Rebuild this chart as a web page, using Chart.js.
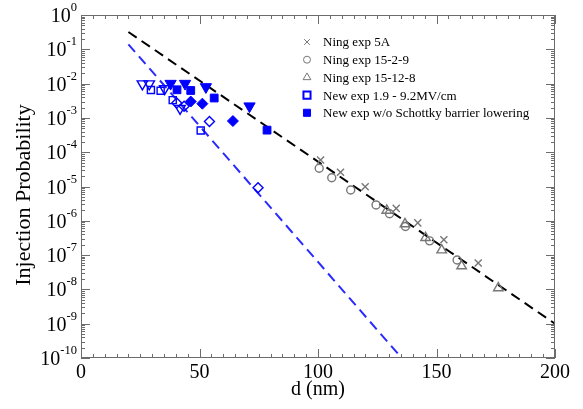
<!DOCTYPE html>
<html>
<head>
<meta charset="utf-8">
<script src="https://cdn.jsdelivr.net/npm/chart.js@4.4.0/dist/chart.umd.min.js"></script>
<style>
  html, body { margin: 0; padding: 0; background: #fff; }
</style>
</head>
<body>
<canvas id="injChart" width="583" height="409"></canvas>
<script>
// Ning et al. data (d in nm, injection probability)
const ning5aD = [101.1, 109.5, 119.9, 133.0, 142.1, 153.1, 167.6];
const ning5aP = [5.9e-5, 2.6e-5, 9.8e-6, 2.3e-6, 8.7e-7, 2.8e-7, 5.9e-8];

const ning1529D = [100.5, 105.8, 113.8, 124.5, 130.2, 136.9, 147.1, 158.7];
const ning1529P = [3.4e-5, 1.8e-5, 7.9e-6, 2.9e-6, 1.6e-6, 6.8e-7, 2.6e-7, 7.2e-8];

const ning15128D = [129.0, 136.7, 145.4, 152.2, 160.6, 176.1];
const ning15128P = [2.0e-6, 8.1e-7, 3.2e-7, 1.4e-7, 4.8e-8, 1.1e-8];

// new experiment, 1.9 - 9.2 MV/cm (open symbols)
const openTriD = [25.9, 28.8, 35.3, 41.8];
const openTriP = [9.8e-3, 9.8e-3, 7.1e-3, 1.9e-3];
const openSqD = [29.5, 33.6, 38.7, 50.5];
const openSqP = [6.5e-3, 6.2e-3, 3.3e-3, 4.3e-4];
const openDiaD = [40.4, 43.5, 54.2, 74.7];
const openDiaP = [2.7e-3, 2.2e-3, 7.9e-4, 9.2e-6];

// new experiment w/o Schottky barrier lowering (filled symbols)
const fillTriD = [37.8, 43.9, 52.7, 71.1];
const fillTriP = [1.0e-2, 1.0e-2, 8.0e-3, 2.2e-3];
const fillSqD = [40.5, 46.3, 56.2, 78.5];
const fillSqP = [6.6e-3, 6.3e-3, 3.8e-3, 4.4e-4];
const fillDiaD = [46.3, 51.2, 64.1];
const fillDiaP = [3.0e-3, 2.6e-3, 8.1e-4];

// fitted lines
const fitBlackD = [20, 200];
const fitBlackP = [0.32, 1.0e-9];
const fitBlueD = [20, 135.3];
const fitBlueP = [0.14, 1.0e-10];

const xMajor = [0, 50, 100, 150, 200];
const yExp = [0, -1, -2, -3, -4, -5, -6, -7, -8, -9, -10];

const legendLabels = [
    'Ning exp 5A',
    'Ning exp 15-2-9',
    'Ning exp 15-12-8',
    'New exp 1.9 - 9.2MV/cm',
    'New exp w/o Schottky barrier lowering'
];

const pts = (xs, ys) => xs.map((v, i) => ({ x: v, y: ys[i] }));

const GRAY = '#777777';
const BLUE = '#0000ff';
const SERIF = '"Liberation Serif", "Times New Roman", serif';

function markers(label, xs, ys, style, color, radius, filled, rotation) {
    return {
        label: label,
        data: pts(xs, ys),
        showLine: false,
        pointStyle: style,
        pointRotation: rotation || 0,
        pointRadius: radius,
        pointBorderWidth: filled ? 1 : 1.4,
        borderColor: color,
        backgroundColor: filled ? color : 'rgba(0,0,0,0)',
        order: 1
    };
}

function fitLine(xs, ys, color) {
    return {
        data: pts(xs, ys),
        showLine: true,
        borderColor: color,
        borderWidth: 2,
        borderDash: [10, 6],
        pointRadius: 0,
        fill: false,
        order: 2
    };
}

// frame, inward ticks, labels, titles, legend
const axesPlugin = {
    id: 'axesPlugin',
    afterDraw(chart) {
        const { ctx, chartArea: a, scales: { x, y } } = chart;
        ctx.save();
        ctx.strokeStyle = '#6c6c6c';
        ctx.lineWidth = 1;

        const tick = (x1, y1, x2, y2) => {
            ctx.beginPath();
            ctx.moveTo(x1, y1);
            ctx.lineTo(x2, y2);
            ctx.stroke();
        };

        ctx.strokeRect(a.left + 0.5, a.top + 0.5, a.right - a.left - 1, a.bottom - a.top - 1);

        for (let v = 0; v <= 200; v += 5) {
            const px = Math.round(x.getPixelForValue(v)) + 0.5;
            const len = v % 50 === 0 ? 9 : 4;
            tick(px, a.bottom, px, a.bottom - len);
            tick(px, a.top, px, a.top + len);
        }

        for (let e = -10; e <= 0; e++) {
            const py = Math.round(y.getPixelForValue(Math.pow(10, e))) + 0.5;
            tick(a.left, py, a.left + 9, py);
            tick(a.right, py, a.right - 9, py);
            if (e === 0) continue;
            for (let m = 2; m <= 9; m++) {
                const pm = Math.round(y.getPixelForValue(m * Math.pow(10, e))) + 0.5;
                tick(a.left, pm, a.left + 4, pm);
                tick(a.right, pm, a.right - 4, pm);
            }
        }

        ctx.fillStyle = '#000';
        ctx.textAlign = 'center';
        ctx.textBaseline = 'alphabetic';
        ctx.font = '20px ' + SERIF;
        xMajor.forEach(v => {
            ctx.fillText(String(v), x.getPixelForValue(v), a.bottom + 20);
        });
        ctx.fillText('d (nm)', (a.left + a.right) / 2, 395);

        ctx.textAlign = 'left';
        yExp.forEach(e => {
            const py = y.getPixelForValue(Math.pow(10, e));
            const sup = String(e);
            ctx.font = '12.5px ' + SERIF;
            const w2 = ctx.measureText(sup).width;
            ctx.font = '20px ' + SERIF;
            const w1 = ctx.measureText('10').width;
            const right = a.left - 4;
            ctx.fillText('10', right - w2 - w1, py + 7);
            ctx.font = '12.5px ' + SERIF;
            ctx.fillText(sup, right - w2, py - 4);
        });

        ctx.save();
        ctx.translate(30, 195);
        ctx.rotate(-Math.PI / 2);
        ctx.textAlign = 'center';
        ctx.font = '22px ' + SERIF;
        ctx.fillText('Injection Probability', 0, 0);
        ctx.restore();

        // legend
        const lx = 307, tx = 323, ly0 = 42, dy = 17.7;
        const legendMarks = [
            { pointStyle: 'crossRot', radius: 4, color: GRAY, fill: false, bw: 1 },
            { pointStyle: 'circle', radius: 3.5, color: GRAY, fill: false, bw: 1 },
            { pointStyle: 'triangle', radius: 4.5, color: GRAY, fill: false, bw: 1 },
            { pointStyle: 'rect', radius: 5, color: BLUE, fill: false, bw: 2 },
            { pointStyle: 'rect', radius: 5, color: BLUE, fill: true, bw: 1 }
        ];
        ctx.font = '13px ' + SERIF;
        ctx.textAlign = 'left';
        ctx.textBaseline = 'middle';
        legendLabels.forEach((lab, i) => {
            const yy = ly0 + i * dy;
            const mk = legendMarks[i];
            ctx.strokeStyle = mk.color;
            ctx.fillStyle = mk.fill ? mk.color : 'rgba(0,0,0,0)';
            ctx.lineWidth = mk.bw;
            Chart.helpers.drawPoint(ctx, { pointStyle: mk.pointStyle, radius: mk.radius, rotation: 0, borderWidth: mk.bw }, lx, yy);
            ctx.fillStyle = '#000';
            ctx.fillText(lab, tx, yy + 1);
        });

        ctx.restore();
    }
};

new Chart(document.getElementById('injChart').getContext('2d'), {
    type: 'scatter',
    data: {
        datasets: [
            markers(legendLabels[0], ning5aD, ning5aP, 'crossRot', GRAY, 5, false),
            markers(legendLabels[1], ning1529D, ning1529P, 'circle', GRAY, 4, false),
            markers(legendLabels[2], ning15128D, ning15128P, 'triangle', GRAY, 5.5, false),
            markers(legendLabels[3], openTriD, openTriP, 'triangle', BLUE, 6, false, 180),
            markers(legendLabels[3], openSqD, openSqP, 'rect', BLUE, 5, false),
            markers(legendLabels[3], openDiaD, openDiaP, 'rectRot', BLUE, 5, false),
            markers(legendLabels[4], fillTriD, fillTriP, 'triangle', BLUE, 6.5, true, 180),
            markers(legendLabels[4], fillSqD, fillSqP, 'rect', BLUE, 5.5, true),
            markers(legendLabels[4], fillDiaD, fillDiaP, 'rectRot', BLUE, 5.5, true),
            fitLine(fitBlackD, fitBlackP, '#000000'),
            fitLine(fitBlueD, fitBlueP, '#2a2aff')
        ]
    },
    options: {
        responsive: false,
        animation: false,
        layout: {
            padding: { left: 81, top: 15, right: 28, bottom: 51 }
        },
        scales: {
            x: { type: 'linear', min: 0, max: 200, display: false },
            y: { type: 'logarithmic', min: 1e-10, max: 1, display: false }
        },
        plugins: {
            legend: { display: false },
            tooltip: { enabled: false }
        }
    },
    plugins: [axesPlugin]
});
</script>
</body>
</html>
